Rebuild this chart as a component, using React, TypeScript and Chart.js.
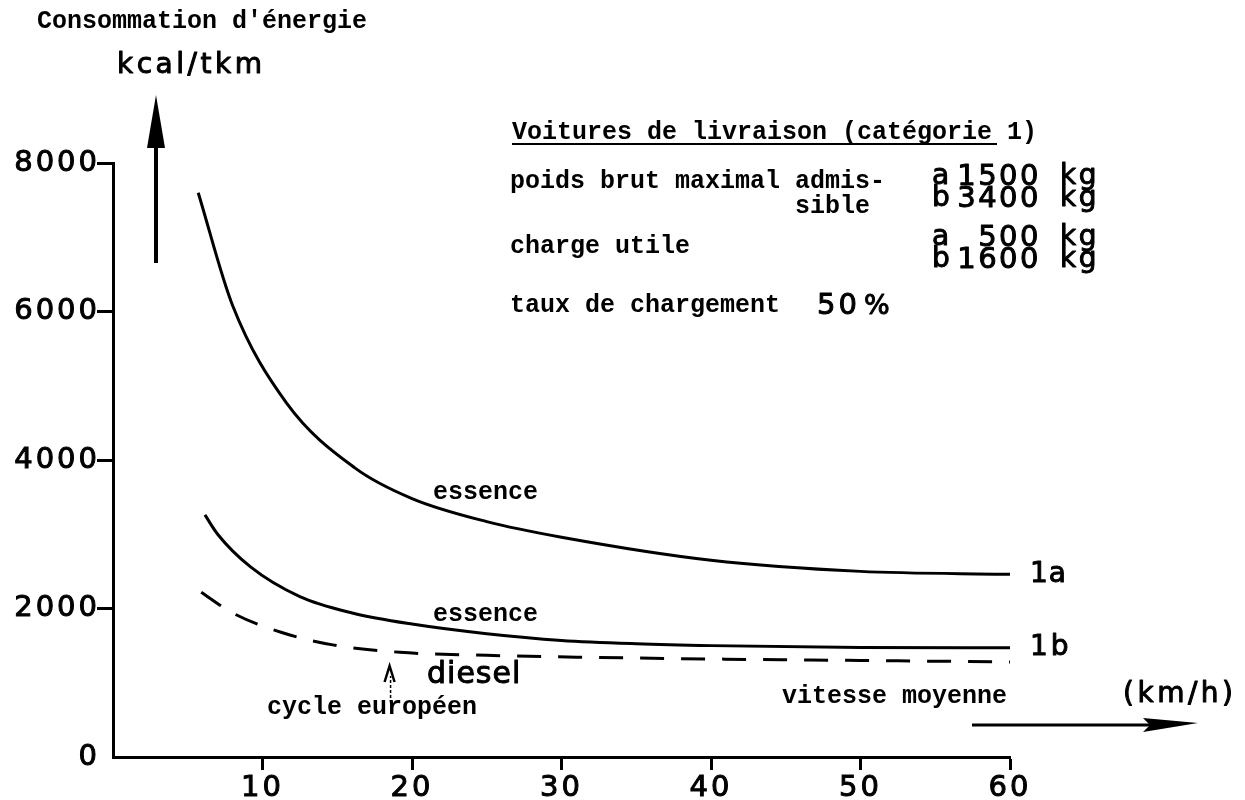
import React, { useEffect, useRef } from 'react';
import { Chart, registerables } from 'chart.js';

Chart.register(...registerables);

// Speed (km/h) and energy consumption (kcal/tkm)
const speed1a = [5.7, 8, 11.6, 16.2, 20, 25, 30, 40, 50, 60];
const energy1a = [7600, 6080, 4770, 3890, 3480, 3170, 2960, 2650, 2500, 2460];

const speed1b = [6.15, 7, 9.2, 12.5, 16, 20, 25, 30, 35, 40, 50, 60];
const energy1b = [3260, 3000, 2560, 2160, 1940, 1790, 1660, 1570, 1525, 1500, 1475, 1470];

const speedDiesel = [5.9, 8, 11.4, 14.7, 19.2, 25, 31, 40, 50, 60];
const energyDiesel = [2220, 1940, 1670, 1510, 1410, 1370, 1345, 1320, 1300, 1280];

const xTicks = [0, 10, 20, 30, 40, 50, 60];
const yTicks = [0, 2000, 4000, 6000, 8000];
const europeanCycleSpeed = 18.5;

const TW = '"Liberation Mono", "DejaVu Sans Mono", monospace';
const SANS = '"DejaVu Sans", sans-serif';

function pts(xs: number[], ys: number[]) {
  return xs.map((x, i) => ({ x, y: ys[i] }));
}

function txt(ctx: CanvasRenderingContext2D, s: string, x: number, y: number, font: string, spacing = 0, align: CanvasTextAlign = 'left', stroke = 0) {
  ctx.save();
  ctx.font = font;
  (ctx as any).letterSpacing = spacing + 'px';
  ctx.textAlign = align;
  ctx.textBaseline = 'middle';
  ctx.fillStyle = '#000';
  ctx.fillText(s, x, y);
  if (stroke > 0) {
    ctx.strokeStyle = '#000';
    ctx.lineWidth = stroke;
    ctx.lineJoin = 'round';
    ctx.strokeText(s, x, y);
  }
  ctx.restore();
}

const annotationPlugin = {
  id: 'annotations',
  beforeDraw(chart: any) {
    const ctx = chart.ctx as CanvasRenderingContext2D;
    ctx.save();
    ctx.fillStyle = '#fff';
    ctx.fillRect(0, 0, chart.width, chart.height);
    ctx.restore();
    (ctx as any).letterSpacing = '3px';
  },
  afterDraw(chart: any) {
    const ctx = chart.ctx as CanvasRenderingContext2D;
    (ctx as any).letterSpacing = '0px';
    const xs = chart.scales.x;
    const ys = chart.scales.y;
    const twB = `bold 25px ${TW}`;
    const sans = (n: number) => `${n}px ${SANS}`;

    // Axis titles
    txt(ctx, "Consommation d'énergie", 37, 22, twB);
    txt(ctx, 'kcal/tkm', 117, 66, sans(28), 3.5, 'left', 1);

    // Big vertical arrow
    ctx.save();
    ctx.strokeStyle = '#000';
    ctx.fillStyle = '#000';
    ctx.lineWidth = 4;
    ctx.beginPath();
    ctx.moveTo(156, 263);
    ctx.lineTo(156, 140);
    ctx.stroke();
    ctx.beginPath();
    ctx.moveTo(156, 95);
    ctx.lineTo(147, 148);
    ctx.lineTo(165, 148);
    ctx.closePath();
    ctx.fill();
    ctx.restore();

    // Info block
    txt(ctx, 'Voitures de livraison (catégorie 1)', 512, 133, twB);
    ctx.save();
    ctx.strokeStyle = '#000';
    ctx.lineWidth = 2;
    ctx.beginPath();
    ctx.moveTo(512, 144);
    ctx.lineTo(997, 144);
    ctx.stroke();
    ctx.restore();
    txt(ctx, 'poids brut maximal admis-', 510, 182, twB);
    txt(ctx, 'sible', 795, 207, twB);
    txt(ctx, 'charge utile', 510, 247, twB);
    txt(ctx, 'taux de chargement', 510, 306, twB);
    txt(ctx, '50', 817, 306, sans(29), 3, 'left', 1);
    txt(ctx, '%', 864, 307, sans(27), 0, 'left', 1);

    const rows: [string, string, number][] = [
      ['a', '1500', 177],
      ['b', '3400', 199],
      ['a', '500', 238],
      ['b', '1600', 260],
    ];
    rows.forEach(([l, n, y]) => {
      txt(ctx, l, 932, y, sans(28), 0, 'left', 1);
      txt(ctx, n, 1041, y, sans(29), 2.5, 'right', 1);
      txt(ctx, 'kg', 1060, y, sans(28), 2.5, 'left', 1);
    });

    // Curve labels
    txt(ctx, 'essence', 433, 493, twB);
    txt(ctx, 'essence', 433, 615, twB);
    txt(ctx, 'diesel', 427, 675, sans(30), 1, 'left', 1);
    const xEnd = xs.getPixelForValue(60);
    txt(ctx, '1a', xEnd + 20, ys.getPixelForValue(energy1a[energy1a.length - 1]), sans(28), 1, 'left', 1);
    txt(ctx, '1 b', xEnd + 20, ys.getPixelForValue(energy1b[energy1b.length - 1]), sans(28), -3, 'left', 1);

    // European cycle arrow
    const cx = xs.getPixelForValue(europeanCycleSpeed);
    ctx.save();
    ctx.strokeStyle = '#000';
    ctx.fillStyle = '#000';
    ctx.lineWidth = 1.5;
    ctx.setLineDash([3, 2]);
    ctx.beginPath();
    ctx.moveTo(cx + 1, 698);
    ctx.lineTo(cx + 1, 676);
    ctx.stroke();
    ctx.setLineDash([]);
    ctx.lineWidth = 2.5;
    ctx.beginPath();
    ctx.moveTo(cx - 5, 682);
    ctx.lineTo(cx, 666);
    ctx.lineTo(cx + 5, 682);
    ctx.stroke();
    ctx.restore();
    txt(ctx, 'cycle européen', 267, 708, twB);

    // Speed label & arrow
    txt(ctx, 'vitesse moyenne', 1007, 697, twB, 0, 'right');
    txt(ctx, '(km/h)', 1123, 695, sans(28), 3.5, 'left', 1);
    ctx.save();
    ctx.strokeStyle = '#000';
    ctx.fillStyle = '#000';
    ctx.lineWidth = 3;
    ctx.beginPath();
    ctx.moveTo(972, 725);
    ctx.lineTo(1160, 725);
    ctx.stroke();
    ctx.beginPath();
    ctx.moveTo(1143, 718);
    ctx.lineTo(1198, 723);
    ctx.lineTo(1143, 732);
    ctx.lineTo(1150, 725);
    ctx.closePath();
    ctx.fill();
    ctx.restore();
  },
};

export default function App() {
  const ref = useRef<HTMLCanvasElement | null>(null);
  useEffect(() => {
    if (!ref.current) return;
    const tickFont = { family: SANS, size: 29 };
    const chart = new Chart(ref.current, {
      type: 'line',
      data: {
        datasets: [
          { label: '1a essence', data: pts(speed1a, energy1a), borderColor: '#000', borderWidth: 3, pointRadius: 0, cubicInterpolationMode: 'monotone', fill: false },
          { label: '1b essence', data: pts(speed1b, energy1b), borderColor: '#000', borderWidth: 3, pointRadius: 0, cubicInterpolationMode: 'monotone', fill: false },
          { label: 'diesel', data: pts(speedDiesel, energyDiesel), borderColor: '#000', borderWidth: 3, borderDash: [24, 17], pointRadius: 0, cubicInterpolationMode: 'monotone', fill: false },
        ],
      },
      options: {
        responsive: false,
        animation: false,
        events: [],
        layout: { padding: { left: 0, top: 163, right: 235, bottom: 0 } },
        plugins: { legend: { display: false }, tooltip: { enabled: false }, title: { display: false } },
        scales: {
          x: {
            type: 'linear',
            min: 0,
            max: 60,
            afterBuildTicks: (s: any) => { s.ticks = xTicks.map((v) => ({ value: v })); },
            afterFit: (s: any) => { s.height = 43; },
            border: { display: true, color: '#000', width: 3 },
            grid: {
              display: true,
              drawOnChartArea: false,
              drawTicks: true,
              tickLength: 13,
              tickWidth: 3,
              tickColor: (c: any) => (c.tick && c.tick.value === 0 ? 'rgba(0,0,0,0)' : '#000'),
            },
            ticks: {
              color: '#000',
              font: tickFont,
              padding: 1,
              maxRotation: 0,
              autoSkip: false,
              textStrokeColor: '#000',
              textStrokeWidth: 1,
              callback: (v: any) => (v === 0 ? '' : String(v)),
            },
          },
          y: {
            type: 'linear',
            min: 0,
            max: 8000,
            afterBuildTicks: (s: any) => { s.ticks = yTicks.map((v) => ({ value: v })); },
            afterFit: (s: any) => { s.width = 113; },
            border: { display: true, color: '#000', width: 3 },
            grid: {
              display: true,
              drawOnChartArea: false,
              drawTicks: true,
              tickLength: 16,
              tickWidth: 3,
              tickColor: (c: any) => (c.tick && c.tick.value === 0 ? 'rgba(0,0,0,0)' : '#000'),
            },
            ticks: {
              color: '#000',
              font: tickFont,
              padding: -3,
              autoSkip: false,
              textStrokeColor: '#000',
              textStrokeWidth: 1,
              callback: (v: any) => String(v),
            },
          },
        },
      },
      plugins: [annotationPlugin],
    } as any);
    return () => chart.destroy();
  }, []);
  return (
    <div style={{ position: 'absolute', left: 0, top: 0, width: 1245, height: 800, background: '#fff' }}>
      <canvas ref={ref} width={1245} height={800} style={{ display: 'block' }} />
    </div>
  );
}
